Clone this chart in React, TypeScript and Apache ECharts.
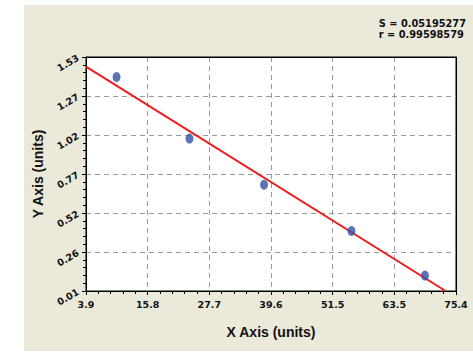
import React, { useEffect, useRef } from "react";
import * as echarts from "echarts";

const xValues = [9.8, 23.9, 38.3, 55.2, 69.4];
const yValues = [1.4, 1.0, 0.7, 0.4, 0.11];
const fitX = [3.9, 73.4];
const fitY = [1.467, 0.01];
const xTickLabels = ["3.9", "15.8", "27.7", "39.6", "51.5", "63.5", "75.4"];
const yTickLabels = ["0.01", "0.26", "0.52", "0.77", "1.02", "1.27", "1.53"];
const statLines = ["S = 0.05195277", "r = 0.99598579"];
const xName = "X Axis (units)";
const yName = "Y Axis (units)";

const X_MIN = 3.9;
const X_MAX = 75.4;
const Y_MIN = 0.01;
const Y_MAX = 1.53;

export default function App() {
  const ref = useRef<HTMLDivElement>(null);
  useEffect(() => {
    if (!ref.current) return;
    const chart = echarts.init(ref.current, undefined, { renderer: "svg" });
    const font = "Arial, 'Liberation Sans', sans-serif";
    const wideFont = "'DejaVu Sans', Verdana, sans-serif";
    const xInterval = (X_MAX - X_MIN) / 6 + 1e-9;
    const yInterval = (Y_MAX - Y_MIN) / 6 + 1e-9;
    const tickColor = "#000";
    chart.setOption({
      animation: false,
      backgroundColor: "#ffffff",
      graphic: [
        {
          type: "rect",
          z: -10,
          shape: { x: 24, y: 5, width: 449, height: 346 },
          style: { fill: "#ebe9da" },
          silent: true,
        },
        {
          type: "text",
          right: 7,
          top: 18,
          z: 10,
          style: {
            text: statLines.join("\n"),
            fill: "#111",
            font: `bold 9.8px ${wideFont}`,
            align: "right",
            lineHeight: 11,
          },
        },
      ],
      grid: {
        left: 86,
        right: 17,
        top: 57,
        bottom: 72,
        show: true,
        backgroundColor: "#ffffff",
        borderColor: "#000",
        borderWidth: 1,
        z: 0,
      },
      xAxis: [
        {
          type: "value",
          min: X_MIN,
          max: X_MAX,
          interval: xInterval,
          name: xName,
          nameLocation: "middle",
          nameGap: 34,
          nameTextStyle: { fontFamily: font, fontWeight: "bold", fontSize: 14, color: "#111" },
          axisLine: { show: true, lineStyle: { color: "#000", width: 1 } },
          axisTick: { show: true, length: 4, lineStyle: { color: tickColor } },
          minorTick: { show: true, splitNumber: 5, length: 3, lineStyle: { color: tickColor } },
          axisLabel: {
            fontFamily: wideFont,
            fontWeight: "bold",
            fontSize: 9.5,
            color: "#111",
            margin: 8,
            formatter: (_v: number, i: number) => xTickLabels[i] ?? "",
          },
          splitLine: {
            show: true,
            showMinLine: false,
            showMaxLine: false,
            lineStyle: { color: "#999", type: [5, 4], width: 1 },
          },
        },
        {
          type: "value",
          position: "top",
          min: X_MIN,
          max: X_MAX,
          axisLine: { show: true, onZero: false, lineStyle: { color: "#000", width: 1 } },
          axisTick: { show: false },
          axisLabel: { show: false },
          splitLine: { show: false },
        },
      ],
      yAxis: [
        {
          type: "value",
          min: Y_MIN,
          max: Y_MAX,
          interval: yInterval,
          name: yName,
          nameLocation: "middle",
          nameGap: 36,
          nameTextStyle: { fontFamily: font, fontWeight: "bold", fontSize: 14, color: "#111" },
          axisLine: { show: true, lineStyle: { color: "#000", width: 1 } },
          axisTick: { show: true, length: 4, lineStyle: { color: tickColor } },
          minorTick: { show: true, splitNumber: 5, length: 3, lineStyle: { color: tickColor } },
          axisLabel: {
            fontFamily: wideFont,
            fontWeight: "bold",
            fontSize: 9.5,
            color: "#111",
            rotate: 30,
            margin: 8,
            formatter: (_v: number, i: number) => yTickLabels[i] ?? "",
          },
          splitLine: {
            show: true,
            showMinLine: false,
            showMaxLine: false,
            lineStyle: { color: "#999", type: [5, 4], width: 1 },
          },
        },
        {
          type: "value",
          position: "right",
          min: Y_MIN,
          max: Y_MAX,
          axisLine: { show: true, onZero: false, lineStyle: { color: "#000", width: 1 } },
          axisTick: { show: false },
          axisLabel: { show: false },
          splitLine: { show: false },
        },
      ],
      series: [
        {
          type: "line",
          data: fitX.map((x, i) => [x, fitY[i]]),
          showSymbol: false,
          symbol: "none",
          lineStyle: { color: "#ee1c1c", width: 2 },
          z: 3,
        },
        {
          type: "scatter",
          data: xValues.map((x, i) => [x, yValues[i]]),
          symbol: "circle",
          symbolSize: [8, 10],
          itemStyle: { color: "#3550a6" },
          z: 4,
        },
      ],
    });
    return () => chart.dispose();
  }, []);
  return (
    <div
      ref={ref}
      style={{ position: "fixed", left: 0, top: 0, width: 473, height: 363 }}
    />
  );
}
